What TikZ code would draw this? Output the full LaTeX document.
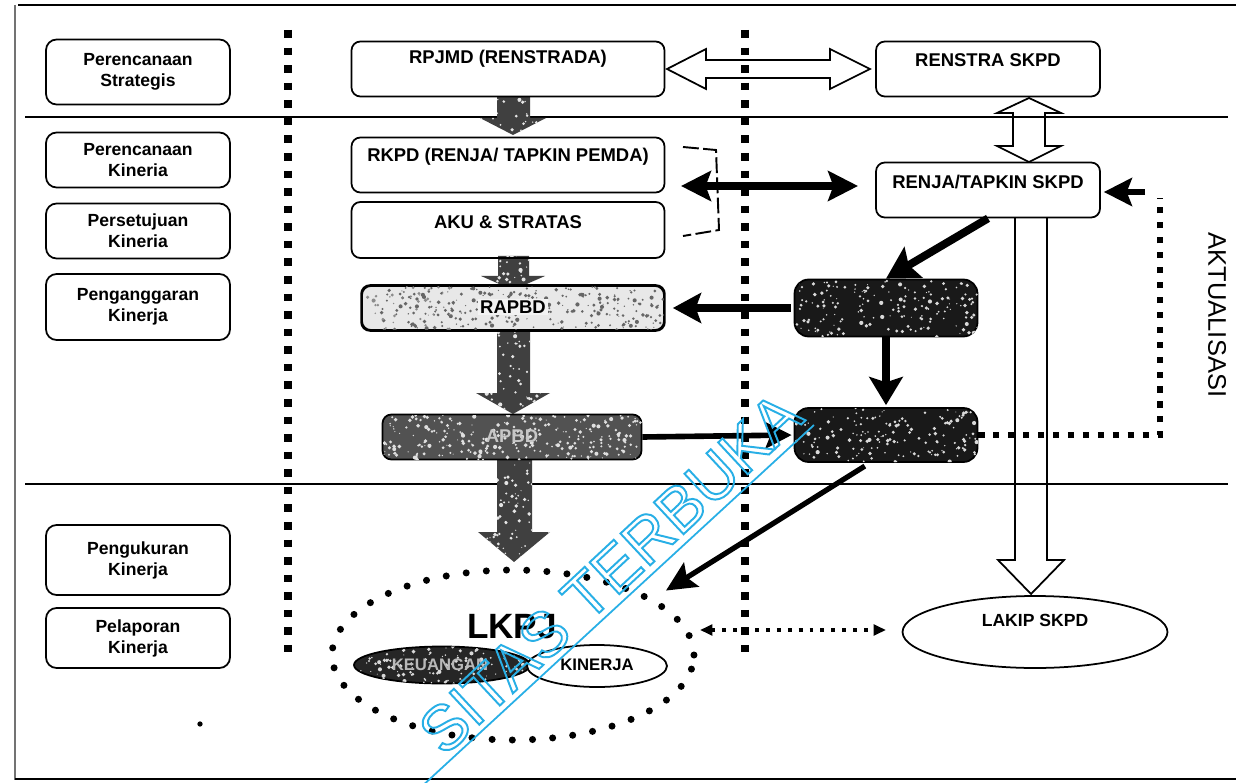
\documentclass[tikz,border=0pt]{standalone}
\usepackage{fontspec}
\setmainfont{Liberation Sans}
\usetikzlibrary{arrows.meta,shapes.geometric,calc}
\definecolor{wmblue}{RGB}{40,175,230}
\newcommand\speckdots[6]{%
  \foreach \i in {1,...,#5}{%
    \pgfmathsetmacro\sx{#1+rnd*(#3-#1)}%
    \pgfmathsetmacro\sy{#2+rnd*(#4-#2)}%
    \pgfmathsetmacro\sr{0.3+rnd*0.9}%
    \fill[#6] (\sx,\sy) circle (\sr pt);
  }}
\begin{document}
\begin{tikzpicture}[x=0.02cm,y=-0.02cm,
  lbl/.style={draw, line width=1pt, rounded corners=6pt, minimum width=3.68cm, align=center,
    font=\fontsize{10}{12}\selectfont\bfseries, inner sep=0pt},
  box/.style={draw, line width=1pt, rounded corners=5pt, inner sep=0pt},
  btxt/.style={font=\fontsize{10.5}{12}\selectfont\bfseries, inner sep=0pt},
  bigdots/.style={line width=4.3pt, dash pattern=on 4.3pt off 5.7pt},
  fbdots/.style={line width=3.5pt, dash pattern=on 3.5pt off 5pt},
  hollow/.style={draw, line width=1pt, line join=miter},
  sect/.style={line width=1.3pt}]
\pgfmathsetseed{11}
\fill[white] (0,0) rectangle (1239,783);
\useasboundingbox (0,0) rectangle (1239,783);
\clip (0,0) rectangle (1239,783);

% frame
\draw[line width=1.6pt] (18,5) -- (1236,5);
\draw[line width=1.6pt, black!55] (15,5) -- (15,780);
\draw[line width=1.6pt] (15,779) -- (1236,779);

% section lines
\draw[sect] (25,117) -- (1228,117);
\draw[sect] (25,484) -- (1228,484);

% vertical square-dotted lines
\draw[bigdots] (288,30) -- (288,658);
\draw[bigdots] (745,30) -- (745,656);

% speckled down arrows (behind boxes)
\begin{scope}
\clip (497,97) -- (530,97) -- (530,118) -- (546,118) -- (513,135) -- (480,118) -- (497,118) -- cycle;
\fill[black!75] (470,90) rectangle (560,140);
\speckdots{470}{90}{560}{140}{60}{white!80!gray}
\end{scope}
\begin{scope}
\clip (498,256) -- (529,256) -- (529,276) -- (545,276) -- (513,290) -- (481,276) -- (498,276) -- cycle;
\fill[black!75] (470,250) rectangle (560,295);
\speckdots{470}{250}{560}{295}{50}{white!80!gray}
\end{scope}
\begin{scope}
\clip (497,328) -- (530,328) -- (530,393) -- (550,393) -- (513,414) -- (476,393) -- (497,393) -- cycle;
\fill[black!75] (470,325) rectangle (560,420);
\speckdots{470}{325}{560}{420}{110}{white!80!gray}
\end{scope}
\begin{scope}
\clip (497,458) -- (532,458) -- (532,532) -- (550,532) -- (514,562) -- (478,532) -- (497,532) -- cycle;
\fill[black!75] (470,455) rectangle (560,565);
\speckdots{470}{455}{560}{565}{120}{white!80!gray}
\end{scope}

% hollow arrows
\draw[hollow] (667,69) -- (706,49) -- (706,60) -- (830,60) -- (830,49) -- (870,69) -- (830,89) -- (830,78) -- (706,78) -- (706,89) -- cycle;
\draw[hollow] (1029,98) -- (1061,113) -- (1045,113) -- (1045,146) -- (1061,146) -- (1029,162) -- (997,146) -- (1013,146) -- (1013,113) -- (997,113) -- cycle;
\draw[hollow] (1015,218) -- (1015,560) -- (998,560) -- (1031,594) -- (1064,560) -- (1047,560) -- (1047,218);

% left labels
\node[lbl, minimum height=1.3cm]  (l1) at (138,72)  {Perencanaan\\Strategis};
\node[lbl, minimum height=1.1cm]  (l2) at (138,160) {Perencanaan\\Kineria};
\node[lbl, minimum height=1.1cm]  (l3) at (138,231) {Persetujuan\\Kineria};
\node[lbl, minimum height=1.32cm] (l4) at (138,307) {Penganggaran\\Kinerja};
\node[lbl, minimum height=1.4cm]  (l5) at (138,560) {Pengukuran\\Kinerja};
\node[lbl, minimum height=1.2cm]  (l6) at (138,638) {Pelaporan\\Kinerja};

% centre column
\node[box, minimum width=6.26cm, minimum height=1.1cm] (rpjmd) at (508,69) {};
\node[btxt] (trpjmd) at (508,59) {RPJMD (RENSTRADA)};
\node[box, minimum width=6.26cm, minimum height=1.1cm] (rkpd) at (508,165) {};
\node[btxt] (trkpd) at (508,157) {RKPD (RENJA/ TAPKIN PEMDA)};
\node[box, minimum width=6.26cm, minimum height=1.12cm] (aku) at (508,230) {};
\node[btxt] (taku) at (508,222) {AKU \& STRATAS};
\node[box, fill=gray!18, minimum width=6.04cm, minimum height=0.88cm] (rapbd) at (513,308) {};
\begin{scope}
\clip[rounded corners=5pt] (362,286) rectangle (664,330);
\speckdots{380}{286}{664}{330}{260}{black!60}
\speckdots{362}{286}{450}{330}{40}{black!45}
\end{scope}
\draw[line width=1pt, rounded corners=5pt] (rapbd.south west) rectangle (rapbd.north east);
\node[btxt, fill=gray!10, inner sep=1pt] (trapbd) at (513,307) {RAPBD};
\node[box, fill=black!68, minimum width=5.18cm, minimum height=0.9cm] (apbd) at (512,437) {};
\begin{scope}
\clip[rounded corners=5pt] (383,415) rectangle (642,460);
\speckdots{383}{415}{642}{460}{260}{white!75!gray}
\end{scope}
\node[btxt, text=gray!45] (tapbd) at (512,436) {APBD};

% right column
\node[box, minimum width=4.48cm, minimum height=1.1cm] (renstra) at (988,69) {};
\node[btxt] (trenstra) at (988,60) {RENSTRA SKPD};
\node[box, minimum width=4.48cm, minimum height=1.1cm] (renja) at (988,190) {};
\node[btxt] (trenja) at (988,182) {RENJA/TAPKIN SKPD};
\node[box, fill=black!90, rounded corners=8pt, minimum width=3.66cm, minimum height=1.14cm] (dk1) at (886,308) {};
\begin{scope}
\clip[rounded corners=8pt] (795,280) rectangle (978,337);
\speckdots{795}{280}{978}{337}{170}{white!70!gray}
\end{scope}
\node[box, fill=black!90, rounded corners=8pt, minimum width=3.66cm, minimum height=1.08cm] (dk2) at (886,435) {};
\begin{scope}
\clip[rounded corners=8pt] (795,408) rectangle (978,462);
\speckdots{795}{408}{978}{462}{160}{white!70!gray}
\end{scope}
\node[ellipse, draw, line width=1pt, fill=white, minimum width=5.3cm, minimum height=1.44cm] (lakip) at (1035,632) {};
\node[btxt, font=\fontsize{10}{12}\selectfont\bfseries] (tlakip) at (1035,620) {LAKIP SKPD};

% LKPJ
\node[ellipse, draw, line width=4pt, dash pattern=on 0pt off 11.5pt, line cap=round,
      minimum width=7.24cm, minimum height=3.4cm] (lkpj) at (513,655) {};
\node[font=\fontsize{20}{22}\selectfont\bfseries, inner sep=0pt] (tlkpj) at (512,627) {LKPJ};
\node[ellipse, draw, line width=1pt, fill=black!85, minimum width=3.52cm, minimum height=0.74cm] (keu) at (442,665) {};
\begin{scope}
\clip (442,665) ellipse [x radius=1.76cm, y radius=0.37cm];
\speckdots{354}{646}{530}{684}{120}{white!70!gray}
\end{scope}
\node[btxt, font=\fontsize{9.5}{11}\selectfont\bfseries, text=gray!55] (tkeu) at (440,665) {KEUANGAN};
\node[ellipse, draw, line width=1pt, fill=white, minimum width=2.8cm, minimum height=0.84cm] (kin) at (597,666) {};
\node[btxt, font=\fontsize{9.5}{11}\selectfont\bfseries] (tkin) at (597,665) {KINERJA};

% bracket
\coordinate (brt) at (683,147);
\coordinate (brb) at (683,236);
\coordinate (brm) at (681,186);
\draw[line width=1.1pt, dash pattern=on 9pt off 2.5pt] (brt) -- (716,150) -- (719,230) -- (brb);

% black arrows
\coordinate (renjaL) at (858,186);
\draw[line width=4.5pt, {Stealth[length=17pt,width=17pt,inset=3pt]}-{Stealth[length=17pt,width=17pt,inset=3pt]}] (brm) -- (renjaL);
\draw[line width=4.5pt, -{Stealth[length=18pt,width=20pt,inset=3pt]}] (renja.south) -- (dk1.north);
\draw[line width=4pt, -{Stealth[length=16pt,width=17pt,inset=3pt]}, shorten >=8*0.02cm, shorten <=3*0.02cm] (dk1.west) -- (rapbd.east);
\draw[line width=4.5pt, -{Stealth[length=16pt,width=19pt,inset=3pt]}, shorten >=2*0.02cm] (dk1.south) -- (dk2.north);
\draw[line width=3.2pt, -{Stealth[length=15pt,width=15pt,inset=3pt]}, shorten >=2*0.02cm] (apbd.east) -- (dk2.west);
\draw[line width=3pt, -{Stealth[length=17pt,width=16pt,inset=3pt]}, shorten >=14*0.02cm, shorten <=6*0.02cm] (dk2.240) -- (lkpj.22);

% aktualisasi feedback
\coordinate (fb1) at (1160,435);
\coordinate (fb2) at (1160,198);
\coordinate (fbs) at (1145,192);
\draw[fbdots] (dk2.east) -- (fb1) -- (fb2);
\draw[line width=3pt, -{Stealth[length=16pt,width=16pt,inset=3pt]}, shorten >=3*0.02cm] (fbs) -- (renja.east |- fbs);
\node[rotate=-90, font=\fontsize{14.5}{16}\selectfont, inner sep=0pt] (akt) at (1217,315) {AKTUALISASI};

% dotted LKPJ <-> LAKIP
\coordinate (da) at (700,630);
\coordinate (db) at (886,630);
\draw[line width=2.2pt, dash pattern=on 2.2pt off 4pt, {Triangle[length=7pt,width=6pt]}-{Triangle[length=7pt,width=6pt]}] (da) -- (db);

% stray dot
\fill (200,724) circle (1.5pt);

% watermark
\node[rotate=43, anchor=base east, text=wmblue, inner sep=0pt,
      font=\fontsize{36}{36}\selectfont] (wm) at (806,420)
  {\special{pdf:literal direct 1 Tr 1.1 w}SITAS TERBUKA\special{pdf:literal direct 0 Tr}};
\draw[wmblue, line width=1pt] ($(wm.base east)+(8,5)$) -- ($(wm.base west)+(-30,36)$);
\end{tikzpicture}
\end{document}
